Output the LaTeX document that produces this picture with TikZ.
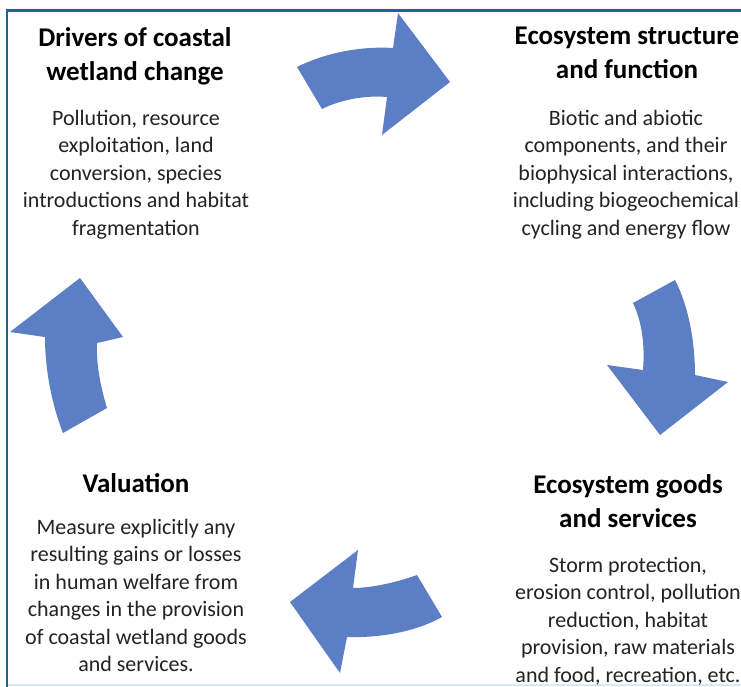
\documentclass[tikz,border=0pt]{standalone}
\usepackage{fontspec}
\setmainfont{Carlito}
\definecolor{arrowblue}{RGB}{91,126,197}
\definecolor{framecol}{RGB}{31,99,145}
\definecolor{framelight}{RGB}{214,236,240}
\definecolor{bodytext}{RGB}{35,35,35}
\begin{document}
\begin{tikzpicture}[x=1pt,y=-1pt,
  title/.style={align=center, inner sep=0pt, anchor=north,
    font=\fontsize{27}{34}\selectfont\bfseries},
  body/.style={align=center, inner sep=0pt, anchor=north, text=bodytext,
    font=\fontsize{22}{27.5}\selectfont},
  cyclearrow/.style={fill=arrowblue, draw=none}]
\useasboundingbox (0,0) rectangle (741,687);
\fill[white] (0,0) rectangle (741,687);

% frame
\draw[framelight, line width=1.2pt] (7,685) -- (745,685);
\draw[framecol, line width=2.2pt] (7,690) -- (7,10.5) -- (745,10.5);

% text blocks
\node[title] (driversT) at (135,27) {Drivers of coastal\\wetland change};
\node[body] (driversB) at (136,110) {Pollution, resource\\exploitation, land\\conversion, species\\introductions and habitat\\fragmentation};

\node[title] (structT) at (627,27) {Ecosystem structure\\and function};
\node[body] (structB) at (626,110) {Biotic and abiotic\\components, and their\\biophysical interactions,\\including biogeochemical\\cycling and energy flow};

\node[title] (goodsT) at (628,474) {Ecosystem goods\\and services};
\node[body] (goodsB) at (628,557) {Storm protection,\\erosion control, pollution\\reduction, habitat\\provision, raw materials\\and food, recreation, etc.};

\node[title] (valT) at (136,473) {Valuation};
\node[body] (valB) at (136,519) {Measure explicitly any\\resulting gains or losses\\in human welfare from\\changes in the provision\\of coastal wetland goods\\and services.};

% curved block arrows of the cycle
\fill[cyclearrow] (297,67) .. controls (325,53) and (360,46) .. (393,48)
  -- (398,13) -- (450,82) -- (382,135) -- (387,97)
  .. controls (365,95) and (340,100) .. (322,109) -- cycle;

\fill[cyclearrow] (633,303) -- (675,280)
  .. controls (688,305) and (695,340) .. (695,375)
  -- (728,382) -- (660,435) -- (607,365) -- (643,370)
  .. controls (645,345) and (642,322) .. (633,303) -- cycle;

\fill[cyclearrow] (442,617) .. controls (415,632) and (380,638) .. (347,637)
  -- (340,673) -- (290,602) -- (358,550) -- (353,588)
  .. controls (370,588) and (395,583) .. (417,575) -- cycle;

\fill[cyclearrow] (63,433) -- (107,408)
  .. controls (100,385) and (96,362) .. (97,343)
  -- (123,337) -- (80,278) -- (10,332) -- (45,337)
  .. controls (45,370) and (52,405) .. (63,433) -- cycle;
\end{tikzpicture}
\end{document}
